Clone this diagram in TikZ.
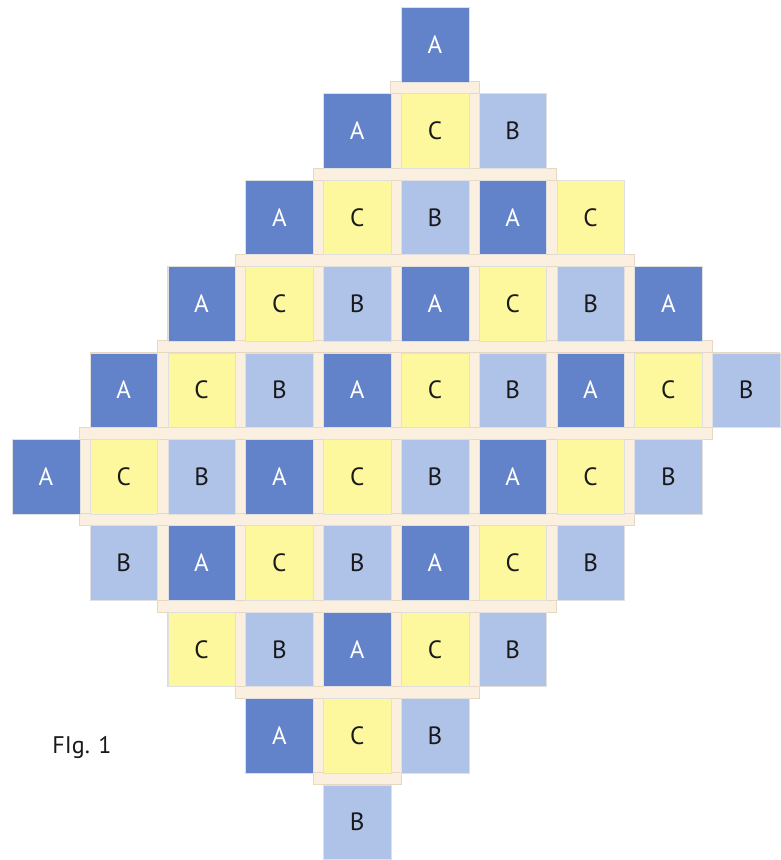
\documentclass[tikz,border=0pt]{standalone}
\usepackage{fontspec}
\setmainfont{PT Sans}
\definecolor{colA}{HTML}{6283C9}
\definecolor{colB}{HTML}{AFC2E8}
\definecolor{colC}{HTML}{FDF79E}
\definecolor{sash}{HTML}{FBF0DF}
\definecolor{sashedge}{HTML}{E6D8C2}
\tikzset{
  patch/.style={minimum width=67.5pt,minimum height=74.5pt,inner sep=0pt,anchor=north west,
    draw=black!12,line width=0.4pt,font=\fontsize{25}{25}\selectfont},
  strip/.style={fill=sash,draw=sashedge,line width=0.6pt}
}
\begin{document}
\begin{tikzpicture}[x=1pt,y=-1pt]
    \useasboundingbox[fill=white](0,0)rectangle(781,860);
    % cream behind each row (shows as the upright strips)
    \foreach \r/\cmin/\cmax in {2/4/6,3/3/7,4/2/8,5/1/9,6/0/8,7/1/7,8/2/6,9/3/5}{
        \pgfmathsetmacro\ytop{7+(\r-1)*86.4}
        \draw[strip](12+\cmin*77.8,\ytop)rectangle(12+\cmax*77.8+67.5,\ytop+74.5);
    }
    % strips between the rows
    \foreach \r/\cmin/\cmax in {1/5/5,2/4/6,3/3/7,4/2/8,5/1/8,6/1/7,7/2/6,8/3/5,9/4/4}{
        \pgfmathsetmacro\ybot{7+(\r-1)*86.4+74.5}
        \draw[strip](12+\cmin*77.8-10.3,\ybot)rectangle(12+\cmax*77.8+67.5+10.3,\ybot+11.9);
    }
    % the patches
    \foreach \r/\cmin/\cmax in {1/5/5,2/4/6,3/3/7,4/2/8,5/1/9,6/0/8,7/1/7,8/2/6,9/3/5,10/4/4}{
        \foreach \c in {\cmin,...,\cmax}{
            \pgfmathtruncatemacro\k{mod(\r+\c,3)}
            \ifcase\k \def\lbl{A}\def\fillc{colA}\def\txtc{white}%
            \or \def\lbl{C}\def\fillc{colC}\def\txtc{black!90}%
            \or \def\lbl{B}\def\fillc{colB}\def\txtc{black!90}\fi
            \node[patch,fill=\fillc,text=\txtc](r\r c\c)at(12+\c*77.8,7+\r*86.4-86.4){\lbl};
        }
    }
    \node[font=\fontsize{24}{24}\selectfont,text=black!90](fig)at(82,747){FIg. 1};
\end{tikzpicture}
\end{document}
